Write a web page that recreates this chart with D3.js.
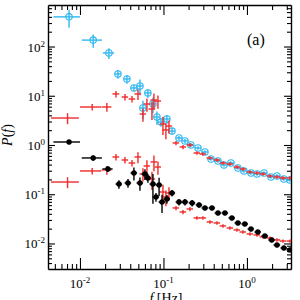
<!DOCTYPE html>
<html>
<head>
<meta charset="utf-8">
<script src="https://cdn.jsdelivr.net/npm/d3@7"></script>
<style>
  html, body { margin: 0; padding: 0; background: #fff; }
  svg { display: block; }
  svg text { font-family: 'Liberation Serif', 'Times New Roman', 'DejaVu Serif', serif; }
</style>
</head>
<body>
<div id="chart"></div>
<script>
/* global d3 */

// Cyan series (open circles)
const cyanF = [0.0074, 0.0144, 0.0222, 0.0285, 0.0365, 0.0443, 0.0523, 0.0568, 0.0651, 0.0748,
  0.0835, 0.0933, 0.110, 0.1265, 0.1535, 0.181, 0.213, 0.259, 0.314, 0.371,
  0.450, 0.531, 0.643, 0.780, 0.920, 1.117, 1.318, 1.600, 1.94, 2.29, 2.77, 3.27]
const cyanDF = [0.0026, 0.0039, 0.0034, 0.0026, 0.0033, 0.0040, 0.0047, 0.0051, 0.0059, 0.0067,
  0.0075, 0.0084, 0.0099, 0.0114, 0.0138, 0.0163, 0.019, 0.023, 0.028, 0.033,
  0.040, 0.048, 0.058, 0.070, 0.083, 0.10, 0.12, 0.14, 0.17, 0.21, 0.25, 0.29]
const cyanP = [400, 135, 74, 27.7, 21.9, 14.4, 15.8, 5.64, 11.4, 6.8,
  3.7, 2.93, 3.37, 1.92, 1.39, 1.21, 1.0, 0.869, 0.721, 0.52,
  0.473, 0.393, 0.431, 0.341, 0.297, 0.270, 0.258, 0.270, 0.224, 0.235, 0.204, 0.195]
const cyanE = [0.4, 0.3, 0.25, 0.2, 0.2, 0.15, 0.35, 0.4, 0.2, 0.35,
  0.3, 0.2, 0.2, 0.15, 0.1, 0.1, 0.1, 0.08, 0.08, 0.08,
  0.08, 0.08, 0.08, 0.08, 0.08, 0.08, 0.08, 0.08, 0.08, 0.08, 0.08, 0.08]

// Red series (crosses only), upper and lower copies share the bins
const redF = [0.0071, 0.0140, 0.0210, 0.0270, 0.0346, 0.0420, 0.0495, 0.0568, 0.0634, 0.0728,
  0.0769, 0.0859, 0.0986, 0.107, 0.1164, 0.1413, 0.1714, 0.2076, 0.2518, 0.297,
  0.3606, 0.4375, 0.5164, 0.6257, 0.759, 0.895, 1.086, 1.318, 1.556, 1.885, 2.285, 2.70, 3.27]
const redDF = [0.0026, 0.0040, 0.0028, 0.0025, 0.0031, 0.0038, 0.0045, 0.0051, 0.0057, 0.0066,
  0.0069, 0.0077, 0.0089, 0.0096, 0.0105, 0.0127, 0.0154, 0.0187, 0.0227, 0.027,
  0.032, 0.039, 0.046, 0.056, 0.068, 0.081, 0.098, 0.119, 0.14, 0.17, 0.21, 0.24, 0.29]
const redHiP = [3.53, 5.91, 5.91, 10.9, 9.43, 8.59, 10.9, 4.26, 6.8, 5.38,
  8.2, 7.82, 2.67, 2.02, 2.43, 1.10, 0.911, 1.0, 0.688, 0.656,
  0.545, 0.496, 0.431, 0.411, 0.357, 0.326, 0.283, 0.270, 0.258, 0.235, 0.224, 0.214, 0.214]
const redLoP = [0.177, 0.297, 0.311, 0.571, 0.496, 0.431, 0.571, 0.258, 0.375, 0.204,
  0.452, 0.357, 0.111, 0.088, 0.106, 0.0526, 0.0436, 0.0502, 0.0330, 0.0330,
  0.0273, 0.0261, 0.0227, 0.0206, 0.0188, 0.0171, 0.0156, 0.0149, 0.0136, 0.0129, 0.0118, 0.0112, 0.0112]
const redE = [0.25, 0.15, 0.2, 0.15, 0.15, 0.15, 0.25, 0.3, 0.3, 0.4,
  0.35, 0.3, 0.4, 0.35, 0.3, 0.1, 0.1, 0.1, 0.08, 0.08,
  0.08, 0.08, 0.08, 0.08, 0.08, 0.08, 0.08, 0.08, 0.08, 0.08, 0.08, 0.08, 0.08]

// Black series (filled dots)
const blackF = [0.0074, 0.0144, 0.0216, 0.0293, 0.0376, 0.0443, 0.0523, 0.0600, 0.0651, 0.0748,
  0.0814, 0.0886, 0.0961, 0.110, 0.1265, 0.1535, 0.181, 0.2204, 0.2672, 0.314,
  0.381, 0.450, 0.545, 0.660, 0.780, 0.943, 1.117, 1.35, 1.64, 1.98, 2.29, 2.77, 3.27]
const blackDF = [0.0026, 0.0039, 0.0030, 0.0026, 0.0034, 0.0040, 0.0047, 0.0054, 0.0059, 0.0067,
  0.0073, 0.0080, 0.0086, 0.0099, 0.0114, 0.0138, 0.0163, 0.020, 0.024, 0.028,
  0.034, 0.040, 0.049, 0.059, 0.070, 0.085, 0.10, 0.12, 0.15, 0.18, 0.21, 0.25, 0.29]
const blackP = [1.15, 0.545, 0.326, 0.161, 0.169, 0.270, 0.169, 0.258, 0.214, 0.161,
  0.088, 0.154, 0.0696, 0.080, 0.106, 0.0696, 0.0696, 0.0665, 0.0605, 0.0526,
  0.0526, 0.0416, 0.0416, 0.0330, 0.0261, 0.0249, 0.0197, 0.0171, 0.0142, 0.0118, 0.0093, 0.0081, 0.0074]
const blackE = [0.1, 0.12, 0.12, 0.2, 0.2, 0.3, 0.3, 0.25, 0.2, 0.6,
  0.2, 0.4, 0.4, 0.2, 0.15, 0.15, 0.15, 0.15, 0.12, 0.1,
  0.1, 0.1, 0.1, 0.1, 0.1, 0.1, 0.1, 0.1, 0.1, 0.1, 0.1, 0.1, 0.1]

const xDomain = [0.00414, 3.37]
const yDomain = [0.00303, 697]

// Our canvas
const width = 300,
  height = 300,
  margin = {top: 5, right: 9, bottom: 31, left: 48}
const w = width - margin.left - margin.right,
  h = height - margin.top - margin.bottom

const serif = "'Liberation Serif', 'Times New Roman', serif"
const cyan = '#2fb8f0',
  red = '#f02a2a'

let svg = d3.select('#chart')
  .append('svg')
  .attr('width', width)
  .attr('height', height)
  .attr('font-family', serif)

let plot = svg.append('g')
  .attr('transform', `translate(${margin.left},${margin.top})`)

const x = d3.scaleLog().domain(xDomain).range([0, w])
const y = d3.scaleLog().domain(yDomain).range([h, 0])

// all 1..9 x 10^n ticks inside the domain
let logTicks = (dom) => {
  const out = []
  for (let e = Math.floor(Math.log10(dom[0])); e <= Math.ceil(Math.log10(dom[1])); e++) {
    for (let k = 1; k < 10; k++) {
      const v = +(k * Math.pow(10, e)).toPrecision(6)
      if (v >= dom[0] && v <= dom[1]) out.push(v)
    }
  }
  return out
}
let isMajor = (v) => Math.abs(Math.log10(v) - Math.round(Math.log10(v))) < 1e-6

const xTicks = logTicks(xDomain),
  yTicks = logTicks(yDomain)

let styleAxis = (g) => {
  g.select('.domain').attr('stroke', '#000').attr('stroke-width', 1.4)
  g.selectAll('.tick line').attr('stroke', '#000').attr('stroke-width', 1.1)
}

// bottom / top
plot.append('g')
  .attr('transform', `translate(0,${h})`)
  .call(d3.axisBottom(x).tickValues(xTicks).tickSizeOuter(0).tickFormat(''))
  .call(styleAxis)
  .call(g => g.selectAll('.tick line').attr('y2', d => isMajor(d) ? -11 : -5))
plot.append('g')
  .call(d3.axisTop(x).tickValues(xTicks).tickSizeOuter(0).tickFormat(''))
  .call(styleAxis)
  .call(g => g.selectAll('.tick line').attr('y2', d => isMajor(d) ? 10 : 5))
// left / right
plot.append('g')
  .call(d3.axisLeft(y).tickValues(yTicks).tickSizeOuter(0).tickFormat(''))
  .call(styleAxis)
  .call(g => g.selectAll('.tick line').attr('x2', d => isMajor(d) ? 7 : 4))
plot.append('g')
  .attr('transform', `translate(${w},0)`)
  .call(d3.axisRight(y).tickValues(yTicks).tickSizeOuter(0).tickFormat(''))
  .call(styleAxis)
  .call(g => g.selectAll('.tick line').attr('x2', d => isMajor(d) ? -7 : -4))

// power-of-ten labels
let powLabel = (sel, d) => {
  const e = Math.round(Math.log10(d))
  sel.append('tspan').text('10')
  sel.append('tspan').attr('dy', -5).attr('font-size', 9).text(e)
}

plot.append('g').selectAll('text')
  .data(xTicks.filter(isMajor))
  .enter()
  .append('text')
  .attr('x', d => x(d))
  .attr('y', h + 19)
  .attr('text-anchor', 'middle')
  .attr('font-family', serif)
  .attr('font-size', 13)
  .each(function (d) { powLabel(d3.select(this), d) })

plot.append('g').selectAll('text')
  .data(yTicks.filter(isMajor))
  .enter()
  .append('text')
  .attr('x', -3)
  .attr('y', d => y(d) + 5)
  .attr('text-anchor', 'end')
  .attr('font-family', serif)
  .attr('font-size', 13)
  .each(function (d) { powLabel(d3.select(this), d) })

// axis titles
const xt = svg.append('text')
  .attr('x', 166)
  .attr('y', 303)
  .attr('text-anchor', 'middle')
  .attr('font-family', serif)
  .attr('font-size', 14)
xt.append('tspan').attr('font-style', 'italic').text('f')
xt.append('tspan').text(' [Hz]')

const yt = svg.append('text')
  .attr('transform', 'translate(12,135) rotate(-90)')
  .attr('text-anchor', 'middle')
  .attr('font-family', serif)
  .attr('font-size', 14)
yt.append('tspan').attr('font-style', 'italic').text('P')
yt.append('tspan').text('(')
yt.append('tspan').attr('font-style', 'italic').text('f')
yt.append('tspan').text(')')

svg.append('text')
  .attr('x', 247)
  .attr('y', 45)
  .attr('font-family', serif)
  .attr('font-size', 16)
  .text('(a)')

// data
svg.append('clipPath').attr('id', 'clip')
  .append('rect').attr('width', w).attr('height', h)
let marks = plot.append('g').attr('clip-path', 'url(#clip)')

let drawSeries = (f, df, p, e, color, marker) => {
  const rows = f.map((d, i) => ({f: d, df: df[i], p: p[i], e: e[i]}))
  const g = marks.append('g')
    .attr('stroke', color)
    .attr('stroke-width', 1.4)
  g.selectAll('line.xe')
    .data(rows)
    .enter()
    .append('line')
    .attr('x1', d => x(d.f - d.df))
    .attr('x2', d => x(d.f + d.df))
    .attr('y1', d => y(d.p))
    .attr('y2', d => y(d.p))
  g.selectAll('line.ye')
    .data(rows)
    .enter()
    .append('line')
    .attr('x1', d => x(d.f))
    .attr('x2', d => x(d.f))
    .attr('y1', d => y(d.p * (1 - d.e)))
    .attr('y2', d => y(d.p * (1 + d.e)))
  if (marker === 'open') {
    g.selectAll('circle')
      .data(rows)
      .enter()
      .append('circle')
      .attr('cx', d => x(d.f))
      .attr('cy', d => y(d.p))
      .attr('r', 3.2)
      .attr('fill', 'none')
      .attr('stroke-width', 1.1)
  } else if (marker === 'filled') {
    g.selectAll('circle')
      .data(rows)
      .enter()
      .append('circle')
      .attr('cx', d => x(d.f))
      .attr('cy', d => y(d.p))
      .attr('r', 2.7)
      .attr('fill', color)
      .attr('stroke', 'none')
  }
}

drawSeries(cyanF, cyanDF, cyanP, cyanE, cyan, 'open')
drawSeries(redF, redDF, redHiP, redE, red, 'none')
drawSeries(redF, redDF, redLoP, redE, red, 'none')
drawSeries(blackF, blackDF, blackP, blackE, '#000', 'filled')
</script>
</body>
</html>
